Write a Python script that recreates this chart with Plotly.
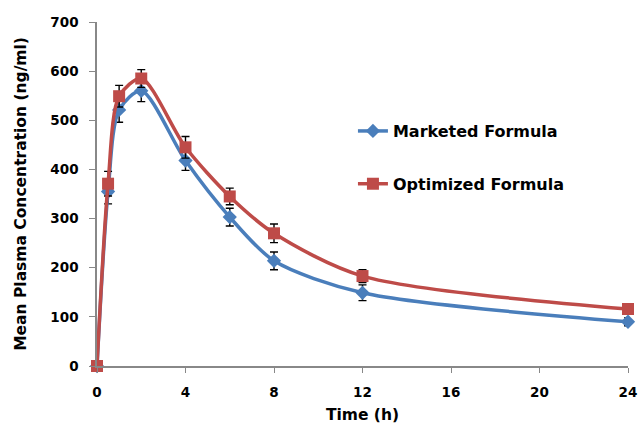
import plotly.graph_objects as go

# Sampling times (h)
time_h = [0, 0.5, 1, 2, 4, 6, 8, 12, 24]

# Mean plasma concentration (ng/ml) and standard deviations
marketed = [0, 355, 521, 560, 418, 303, 214, 149, 90]
marketed_sd = [0, 25, 25, 22, 20, 18, 18, 16, 8]
optimized = [0, 371, 549, 585, 445, 345, 270, 183, 116]
optimized_sd = [0, 25, 22, 18, 22, 17, 19, 13, 7]

x_ticks = [0, 4, 8, 12, 16, 20, 24]
y_ticks = [0, 100, 200, 300, 400, 500, 600, 700]

BLUE = "#4A7EBB"
RED = "#BE4B48"
FONT = "DejaVu Sans"

fig = go.Figure()
fig.add_trace(go.Scatter(
    x=time_h, y=marketed, name="Marketed Formula",
    mode="lines+markers", line=dict(color=BLUE, width=3.5, shape="spline", smoothing=0.8),
    marker=dict(symbol="diamond", size=11, color=BLUE),
    error_y=dict(type="data", array=marketed_sd, color="black", thickness=1.4, width=4),
    cliponaxis=False, legendgroup="a",
))
fig.add_trace(go.Scatter(
    x=time_h, y=optimized, name="Optimized Formula",
    mode="lines+markers", line=dict(color=RED, width=3.5, shape="spline", smoothing=0.8),
    marker=dict(symbol="square", size=12, color=RED),
    error_y=dict(type="data", array=optimized_sd, color="black", thickness=1.4, width=4),
    cliponaxis=False, legendgroup="b",
))

fig.update_layout(
    width=639, height=428,
    margin=dict(l=97, r=11, t=22, b=62),
    paper_bgcolor="white", plot_bgcolor="white",
    font=dict(family=FONT, color="black", size=13),
    showlegend=True,
    legend=dict(
        x=0.482, y=0.606, xanchor="left", yanchor="middle",
        font=dict(family=FONT, size=16, color="black", weight="bold"),
        traceorder="grouped", tracegroupgap=29, bgcolor="rgba(0,0,0,0)",
    ),
    xaxis=dict(
        range=[0, 24], tickvals=x_ticks, ticks="outside", ticklen=5,
        tickcolor="#888888", showline=True, linecolor="#888888", linewidth=1.5,
        showgrid=False, zeroline=False, automargin=False, ticklabelstandoff=8,
        tickfont=dict(family=FONT, size=13.5, weight="bold"),
        title=dict(text="Time (h)", font=dict(family=FONT, size=15.5, weight="bold"), standoff=10),
    ),
    yaxis=dict(
        range=[0, 700], tickvals=y_ticks, ticks="outside", ticklen=6,
        tickcolor="#888888", showline=True, linecolor="#888888", linewidth=1.5,
        showgrid=False, zeroline=False, automargin=False, ticklabelstandoff=8,
        tickfont=dict(family=FONT, size=13.5, weight="bold"),
        title=dict(text="Mean Plasma Concentration (ng/ml)",
                   font=dict(family=FONT, size=15.5, weight="bold"), standoff=20),
    ),
)

fig.write_html("out.html")
